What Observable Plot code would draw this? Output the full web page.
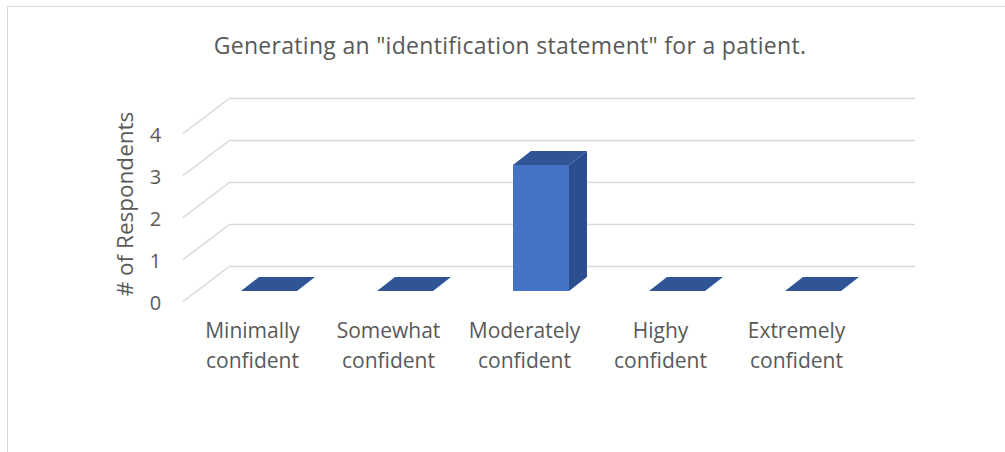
<!DOCTYPE html>
<html><head><meta charset="utf-8">
<script src="https://cdn.jsdelivr.net/npm/d3@7"></script>
<script src="https://cdn.jsdelivr.net/npm/@observablehq/plot@0.6"></script>
<style>
body{margin:0;background:#fff;}
#wrap{position:relative;width:1005px;height:452px;overflow:hidden;background:#fff;font-family:"Open Sans",sans-serif;}
#border{position:absolute;left:7px;top:6px;width:1100px;height:600px;border:1px solid #d9d9d9;box-sizing:border-box;}
#title{position:absolute;left:0;width:1020px;top:29px;text-align:center;font-size:23px;letter-spacing:0.3px;color:#595959;line-height:32px;white-space:nowrap;}
#chart{position:absolute;left:0;top:0;}
</style></head><body>
<div id="wrap"><div id="border"></div><div id="chart"></div><div id="title"></div></div>
<script>
const title = 'Generating an "identification statement" for a patient.';
const yLabel = "# of Respondents";
const categories = ["Minimally confident", "Somewhat confident", "Moderately confident", "Highy confident", "Extremely confident"];
const categoryLines = ["Minimally\nconfident", "Somewhat\nconfident", "Moderately\nconfident", "Highy\nconfident", "Extremely\nconfident"];
const values = [0, 0, 3, 0, 0];
const yTicks = [0, 1, 2, 3, 4];

document.getElementById("title").textContent = title;

const data = categories.map((c, i) => ({category: c, label: categoryLines[i], value: values[i]}));

// 3D projection offsets (pixels)
const BAR_DX = 18, BAR_DY = -14;
const WALL_DX = 47, WALL_FRONT_DY = 10.5, WALL_BACK_DY = -25;
const GRID = "#d9d9d9";

function wallDiagonals(index, scales, vals, dims) {
  const g = d3.create("svg:g").attr("stroke", GRID).attr("stroke-width", 1.5).attr("fill", "none");
  for (const i of index) {
    const y = vals.y[i];
    g.append("line")
      .attr("x1", dims.marginLeft - WALL_DX).attr("y1", y + WALL_FRONT_DY)
      .attr("x2", dims.marginLeft).attr("y2", y + WALL_BACK_DY);
  }
  return g.node();
}

function bars3d(index, scales, vals, dims) {
  const g = d3.create("svg:g");
  const bw = scales.x.bandwidth();
  for (const i of index) {
    const d = data[i];
    const x0 = scales.x(d.category), x1 = x0 + bw;
    const yb = scales.y(0), yt = scales.y(d.value);
    if (yb - yt > 0.5) {
      g.append("rect").attr("x", x0).attr("y", yt).attr("width", bw).attr("height", yb - yt).attr("fill", "#4472C4");
      g.append("polygon").attr("points", [[x1, yt], [x1 + BAR_DX, yt + BAR_DY], [x1 + BAR_DX, yb + BAR_DY], [x1, yb]].join(" ")).attr("fill", "#2B4E8F");
    }
    g.append("polygon").attr("points", [[x0, yt], [x1, yt], [x1 + BAR_DX, yt + BAR_DY], [x0 + BAR_DX, yt + BAR_DY]].join(" ")).attr("fill", "#2F5597");
  }
  return g.node();
}

const chart = Plot.plot({
  width: 1005,
  height: 452,
  marginLeft: 230,
  marginRight: 90,
  marginTop: 97,
  marginBottom: 142,
  style: {fontFamily: '"Open Sans", sans-serif', color: "#595959", background: "transparent"},
  x: {type: "band", domain: categories, range: [201, 881], paddingInner: 0.588, paddingOuter: 0.294, axis: null},
  y: {domain: [0, 4], range: [291, 123], axis: null},
  marks: [
    Plot.ruleY(yTicks, {y: d => d, dy: WALL_BACK_DY, stroke: GRID, strokeWidth: 1.5}),
    Plot.ruleY(yTicks, {y: d => d, render: wallDiagonals}),
    Plot.barY(data, {x: "category", y: "value", render: bars3d}),
    Plot.text(yTicks, {y: d => d, text: d => String(d), frameAnchor: "left", dx: -75, dy: 12, textAnchor: "middle", fontSize: 20, fill: "#595959"}),
    Plot.text(data, {x: "category", y: () => 0, text: "label", dx: -17, dy: 26, lineAnchor: "top", lineHeight: 1.4, fontSize: 21, fill: "#595959"}),
    Plot.text([yLabel], {text: d => d, frameAnchor: "left", textAnchor: "middle", dx: -105, rotate: -90, fontSize: 22.5, fill: "#595959"})
  ]
});
document.getElementById("chart").appendChild(chart);
</script>
</body></html>
